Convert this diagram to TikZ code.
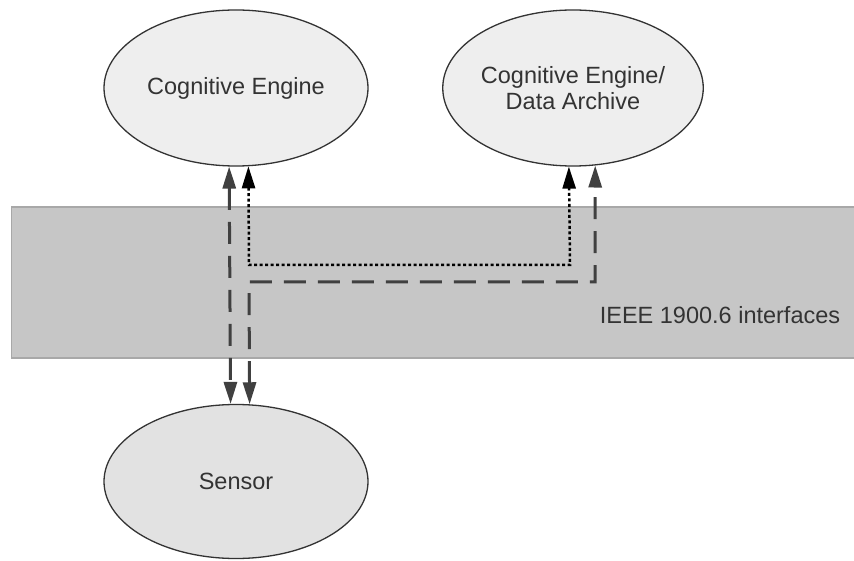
\documentclass[tikz,border=0pt]{standalone}
\usepackage{fontspec}
\setmainfont{Liberation Sans}
\usetikzlibrary{shapes.geometric,arrows.meta}
\definecolor{txtgray}{HTML}{333333}
\definecolor{linegray}{HTML}{404040}
\definecolor{bandfill}{HTML}{C6C6C6}
\definecolor{bandedge}{HTML}{A8A8A8}
\definecolor{ellfill}{HTML}{EEEEEE}
\definecolor{sensfill}{HTML}{E2E2E2}
\tikzset{
  ellnode/.style={ellipse, draw=txtgray, line width=1.3pt, fill=ellfill, inner sep=0pt,
    minimum width=264pt, minimum height=156pt, align=center, text=txtgray,
    font=\fontsize{23.5}{26}\selectfont},
  bandbox/.style={rectangle, draw=bandedge, line width=1.2pt, fill=bandfill, inner sep=0pt,
    minimum width=843pt, minimum height=151pt},
  bandlabel/.style={text=txtgray, font=\fontsize{23.5}{26}\selectfont, inner sep=0pt},
  dashlink/.style={draw=linegray, line width=3pt, dash pattern=on 22pt off 12pt,
    {Triangle[length=22pt,width=13pt]}-{Triangle[length=22pt,width=13pt]}},
  dotlink/.style={draw=black, line width=2.5pt, dash pattern=on 3pt off 2.5pt,
    {Triangle[length=22pt,width=13pt]}-{Triangle[length=22pt,width=13pt]}},
}
\begin{document}
\begin{tikzpicture}[x=1pt,y=-1pt]
\useasboundingbox (0,0) rectangle (854,561);
\fill[white] (0,0) rectangle (854,561);
\node[bandbox] (band) at (433,282.5) {};
\node[bandlabel] (bl) at (720,315) {IEEE 1900.6 interfaces};
\node[ellnode] (ce) at (236,88) {Cognitive Engine};
\node[ellnode, minimum width=258pt] (ceda) at (573,88) {Cognitive Engine/\\Data Archive};
\node[ellnode, fill=sensfill, minimum height=154pt] (sensor) at (236,481.5) {Sensor};
% corner coordinates
\coordinate (d1) at (249,265);
\coordinate (d2) at (570,265);
\coordinate (g1) at (249,282);
\coordinate (g2) at (595,282);
% left straight dashed link
\draw[dashlink] (ce.265.6) -- (sensor.94.5);
% dotted link CE -> CEDA
\draw[dotlink] (ce.279.5) -- (d1) -- (d2) -- (ceda.267.8);
% dashed link Sensor -> CEDA
\draw[dashlink] (sensor.80.4) -- (g1) -- (g2) -- (ceda.286);
\end{tikzpicture}
\end{document}
